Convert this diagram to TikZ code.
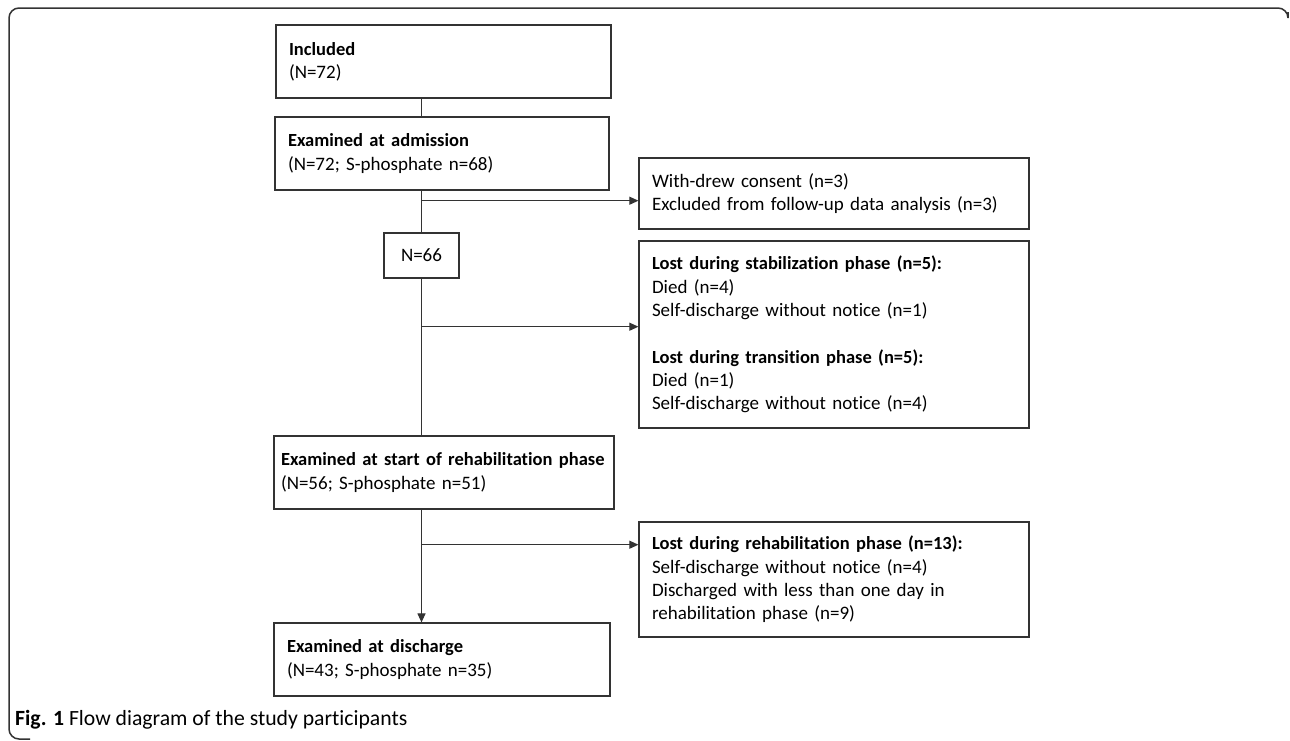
\documentclass[tikz,border=0pt]{standalone}
\usepackage{fontspec}
\setmainfont{Carlito}[Ligatures=NoCommon]
\usetikzlibrary{arrows.meta}
\newcommand{\hd}[1]{\mbox{\fontsize{18.5}{23.3}\selectfont\bfseries #1}}
\begin{document}
\begin{tikzpicture}[x=1pt,y=-1pt,
  every node/.style={font=\fontsize{19}{23.3}\selectfont},
  flowbox/.style={draw=black!80, line width=1.2pt, inner xsep=13pt, inner ysep=0pt, align=left, anchor=center},
  link/.style={draw=black!80, line width=1.1pt},
  arr/.style={link, -{Triangle[length=9pt,width=8pt]}}]
\useasboundingbox (0,0) rectangle (1290,740);
\draw[draw=black!80, line width=1.5pt, rounded corners=10pt] (1288,12) -- (1288,8) -- (9,8) -- (9,739) -- (30,739);
\node[flowbox, minimum width=335pt, minimum height=73pt, text width=309pt] (inc) at (443.5,61.5) {\hd{Included}\\(N=72)};
\node[flowbox, minimum width=334pt, minimum height=73pt, text width=308pt] (adm) at (442,153.5) {\hd{Examined at admission}\\(N=72; S-phosphate n=68)};
\node[flowbox, minimum width=390pt, minimum height=71pt, text width=364pt] (wd) at (834,193.5) {With-drew consent (n=3)\\Excluded from follow-up data analysis (n=3)};
\node[flowbox, align=center, inner xsep=0pt, minimum width=75pt, minimum height=45pt, text width=75pt] (n66) at (421.5,255.5) {N=66};
\node[flowbox, minimum width=390pt, minimum height=187pt, text width=364pt] (ls) at (834,334.5) {\hd{Lost during stabilization phase (n=5):}\\Died (n=4)\\Self-discharge without notice (n=1)\\[23.3pt]\hd{Lost during transition phase (n=5):}\\Died (n=1)\\Self-discharge without notice (n=4)};
\node[flowbox, inner xsep=7pt, minimum width=340pt, minimum height=73pt, text width=326pt] (reh) at (444,472.5) {\hd{Examined at start of rehabilitation phase}\\(N=56; S-phosphate n=51)};
\node[flowbox, minimum width=390pt, minimum height=115pt, text width=364pt] (lr) at (834,579.5) {\hd{Lost during rehabilitation phase (n=13):}\\Self-discharge without notice (n=4)\\Discharged with less than one day in\\rehabilitation phase (n=9)};
\node[flowbox, minimum width=336pt, minimum height=73pt, text width=310pt] (dis) at (442,659.5) {\hd{Examined at discharge}\\(N=43; S-phosphate n=35)};
\node[anchor=west, inner sep=0pt, font=\fontsize{21.7}{25}\selectfont] (cap) at (15,720) {\textbf{Fig. 1} Flow diagram of the study participants};
\coordinate (j1) at (421.5,200.7);
\coordinate (j2) at (421.5,326.7);
\coordinate (j3) at (421.5,544.7);
\draw[link] (inc.south -| n66) -- (adm.north -| n66);
\draw[link] (adm.south -| n66) -- (n66.north);
\draw[link] (n66.south) -- (reh.north -| n66);
\draw[arr] (reh.south -| n66) -- (dis.north -| n66);
\draw[arr] (j1) -- (j1 -| wd.west);
\draw[arr] (j2) -- (j2 -| ls.west);
\draw[arr] (j3) -- (j3 -| lr.west);
\end{tikzpicture}
\end{document}
